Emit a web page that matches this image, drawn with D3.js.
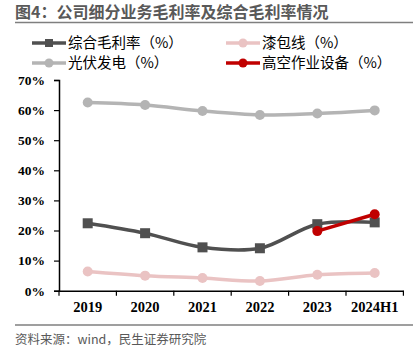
<!DOCTYPE html>
<html>
<head>
<meta charset="utf-8">
<script src="https://cdn.jsdelivr.net/npm/d3@7"></script>
<style>
  body { margin: 0; background: #fff; }
  svg { display: block; }
</style>
</head>
<body>
<div id="chart"></div>
<script>
const years = ["2019", "2020", "2021", "2022", "2023", "2024H1"];
const overall = [22.4, 19.1, 14.4, 14.1, 22.1, 22.7];
const enamelWire = [6.4, 5.0, 4.2, 3.2, 5.3, 5.9];
const solar = [62.5, 61.7, 59.7, 58.4, 58.9, 59.9];
const aerial = [null, null, null, null, 19.8, 25.4];
const yTicks = [0, 10, 20, 30, 40, 50, 60, 70];

const series = [
    {name: "综合毛利率（%）", values: overall, color: "#505050", marker: "square"},
    {name: "漆包线（%）", values: enamelWire, color: "#eac3c3", marker: "circle"},
    {name: "光伏发电（%）", values: solar, color: "#b4b4b4", marker: "circle"},
    {name: "高空作业设备（%）", values: aerial, color: "#c00000", marker: "circle"}
];

const width = 413, height = 353;
const margin = {top: 80, right: 10, bottom: 62, left: 59};

const svg = d3.select("#chart").append("svg")
    .attr("width", width)
    .attr("height", height);

const cjk = "'Noto Sans CJK SC', 'Noto Sans', sans-serif";
const serif = "'Liberation Serif', 'DejaVu Serif', serif";

// title
svg.append("text")
    .attr("x", 15).attr("y", 18)
    .attr("font-family", cjk)
    .attr("font-weight", "bold")
    .attr("font-size", 16)
    .attr("fill", "#595959")
    .text("图4：公司细分业务毛利率及综合毛利率情况");
svg.append("line")
    .attr("x1", 15).attr("x2", width)
    .attr("y1", 22.5).attr("y2", 22.5)
    .attr("stroke", "#7f7f7f").attr("stroke-width", 1.5);

// footnote
svg.append("line")
    .attr("x1", 15).attr("x2", width)
    .attr("y1", 325).attr("y2", 325)
    .attr("stroke", "#7f7f7f").attr("stroke-width", 1.5);
svg.append("text")
    .attr("x", 15).attr("y", 344)
    .attr("font-family", cjk)
    .attr("font-size", 12.5)
    .attr("fill", "#595959")
    .text("资料来源：wind，民生证券研究院");

const x = d3.scaleBand()
    .domain(years)
    .range([margin.left, 403.4]);

const y = d3.scaleLinear()
    .domain([0, 70])
    .range([290.7, margin.top]);

const g = svg.append("g");

// y axis
const yAxis = g.append("g")
    .attr("transform", `translate(${margin.left},0)`)
    .call(d3.axisLeft(y).tickValues(yTicks).tickSize(5).tickPadding(9)
        .tickFormat(d => d + "%"));
yAxis.select(".domain").attr("stroke", "#000").attr("stroke-width", 1.5);
yAxis.selectAll(".tick line").attr("stroke", "#000").attr("stroke-width", 1.2);
yAxis.selectAll("text")
    .attr("font-family", serif)
    .attr("font-weight", "bold")
    .attr("font-size", 13.5)
    .attr("fill", "#000");

// x axis
const xAxis = g.append("g")
    .attr("transform", `translate(0,${y(0)})`)
    .call(d3.axisBottom(x).tickSize(0).tickPadding(11));
xAxis.select(".domain").attr("stroke", "#000").attr("stroke-width", 1.5);
xAxis.selectAll("text")
    .attr("font-family", serif)
    .attr("font-weight", "bold")
    .attr("font-size", 14.5)
    .attr("fill", "#000");
// boundary ticks between categories
xAxis.selectAll(".bound")
    .data(years.concat(["end"]))
    .enter().append("line")
    .attr("class", "bound")
    .attr("x1", (d, i) => i < years.length ? x(d) : x(years[years.length - 1]) + x.bandwidth())
    .attr("x2", (d, i) => i < years.length ? x(d) : x(years[years.length - 1]) + x.bandwidth())
    .attr("y1", 0).attr("y2", 5)
    .attr("stroke", "#000").attr("stroke-width", 1.2);

const cx = d => x(d) + x.bandwidth() / 2;

const line = d3.line()
    .defined(d => d.v != null)
    .x(d => cx(d.year))
    .y(d => y(d.v))
    .curve(d3.curveCatmullRom.alpha(0.5));

// draw order: pink, dark, gray, red
const order = [1, 0, 2, 3];
order.forEach(i => {
    const s = series[i];
    const pts = years.map((yr, j) => ({year: yr, v: s.values[j]}));
    g.append("path")
        .datum(pts)
        .attr("fill", "none")
        .attr("stroke", s.color)
        .attr("stroke-width", 3.5)
        .attr("d", line);
    const valid = pts.filter(d => d.v != null);
    if (s.marker === "square") {
        g.selectAll(null).data(valid).enter().append("rect")
            .attr("x", d => cx(d.year) - 5)
            .attr("y", d => y(d.v) - 5)
            .attr("width", 10).attr("height", 10)
            .attr("fill", s.color);
    } else {
        g.selectAll(null).data(valid).enter().append("circle")
            .attr("cx", d => cx(d.year))
            .attr("cy", d => y(d.v))
            .attr("r", 5)
            .attr("fill", s.color);
    }
});

// legend
const legendPos = [
    {x: 32, y: 43}, {x: 226, y: 43},
    {x: 32, y: 63}, {x: 226, y: 63}
];
series.forEach((s, i) => {
    const p = legendPos[i];
    const lg = svg.append("g").attr("transform", `translate(${p.x},${p.y})`);
    lg.append("line")
        .attr("x1", 0).attr("x2", 34)
        .attr("y1", 0).attr("y2", 0)
        .attr("stroke", s.color).attr("stroke-width", 3.5);
    if (s.marker === "square") {
        lg.append("rect").attr("x", 13).attr("y", -4).attr("width", 8).attr("height", 8)
            .attr("fill", s.color);
    } else {
        lg.append("circle").attr("cx", 17).attr("cy", 0).attr("r", 4.5).attr("fill", s.color);
    }
    lg.append("text")
        .attr("x", 36).attr("y", 5)
        .attr("font-family", cjk)
        .attr("font-size", 14.5)
        .attr("fill", "#000")
        .text(s.name);
});
</script>
</body>
</html>
